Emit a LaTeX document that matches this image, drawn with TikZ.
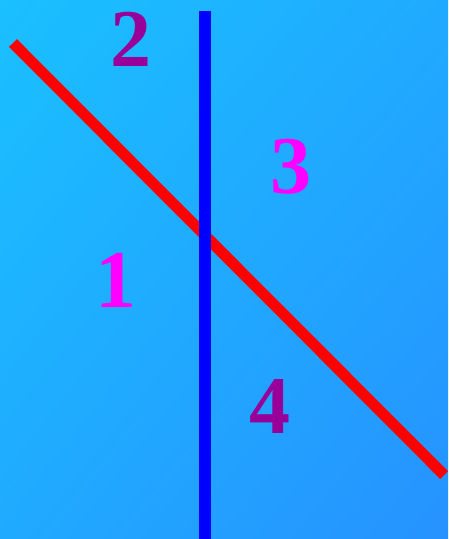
\documentclass[tikz,border=0pt]{standalone}
\usepackage{fontspec}
\setmainfont{Liberation Serif}
\usetikzlibrary{shadings}
\definecolor{skylight}{RGB}{26,192,255}
\definecolor{skymid}{RGB}{32,170,255}
\definecolor{skydeep}{RGB}{38,146,255}
\definecolor{numplum}{RGB}{153,0,153}
\definecolor{numpink}{RGB}{255,0,255}

\begin{document}
\begin{tikzpicture}[x=1pt,y=-1pt,line cap=butt,
  num/.style={font=\fontsize{82}{82}\selectfont\bfseries,inner sep=0pt}]
\shade[upper left=skylight,upper right=skymid,lower left=skymid,lower right=skydeep]
  (0,0) rectangle (448,539);
\useasboundingbox (0,0) rectangle (448,539);
% the two lines
\coordinate (redA) at (13,43);
\coordinate (redB) at (444,475);
\coordinate (blueA) at (205,11);
\coordinate (blueB) at (205,539);
\draw[red,line width=11] (redA) -- (redB);
\draw[blue,line width=12] (blueA) -- (blueB);
% the four regions
\node[num,text=numpink] (one) at (116,280) {1};
\node[num,text=numplum] (two) at (131,39) {2};
\node[num,text=numpink] (three) at (291,167) {3};
\node[num,text=numplum] (four) at (270,407) {4};
\end{tikzpicture}
\end{document}
